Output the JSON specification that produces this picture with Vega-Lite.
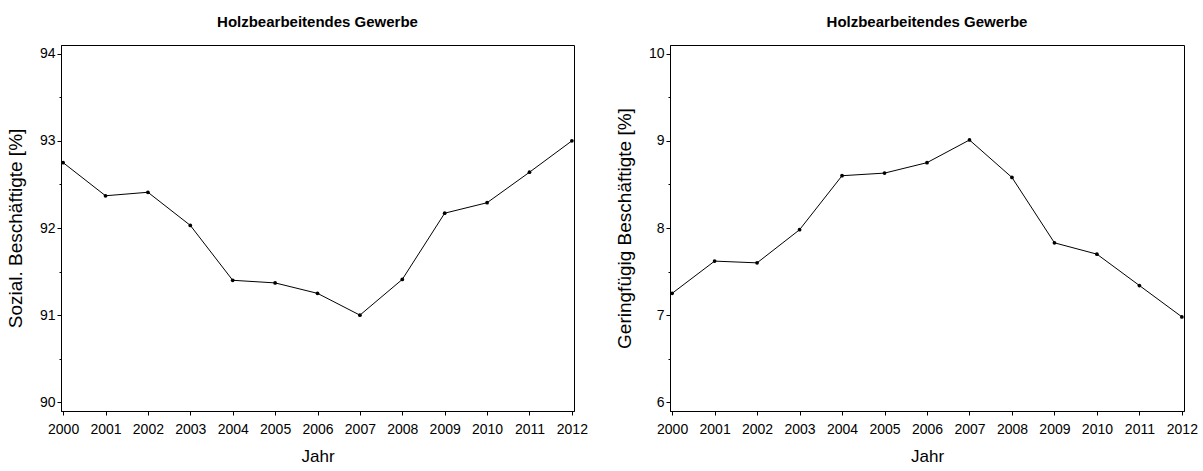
{
  "$schema": "https://vega.github.io/schema/vega-lite/v6.json",
  "padding": {"left": 5, "top": 14, "right": 5, "bottom": 3},
  "spacing": 26,
  "background": "white",
  "config": {
    "font": "Liberation Sans",
    "view": {"stroke": "black", "strokeWidth": 1},
    "axis": {
      "grid": false,
      "domainColor": "black",
      "tickColor": "black",
      "labelColor": "black",
      "titleColor": "black",
      "labelFont": "Liberation Sans",
      "labelFontSize": 14,
      "titleFont": "Liberation Sans",
      "titleFontSize": 19,
      "titleFontWeight": "normal",
      "tickSize": 4
    },
    "title": {"font": "Liberation Sans", "fontSize": 15, "fontWeight": "bold", "color": "black", "anchor": "middle", "offset": 15}
  },
  "datasets": {
    "d": [
      {"Jahr": 2000, "sozial": 92.75, "gering": 7.25},
      {"Jahr": 2001, "sozial": 92.37, "gering": 7.62},
      {"Jahr": 2002, "sozial": 92.41, "gering": 7.60},
      {"Jahr": 2003, "sozial": 92.03, "gering": 7.98},
      {"Jahr": 2004, "sozial": 91.40, "gering": 8.60},
      {"Jahr": 2005, "sozial": 91.37, "gering": 8.63},
      {"Jahr": 2006, "sozial": 91.25, "gering": 8.75},
      {"Jahr": 2007, "sozial": 91.00, "gering": 9.01},
      {"Jahr": 2008, "sozial": 91.41, "gering": 8.58},
      {"Jahr": 2009, "sozial": 92.17, "gering": 7.83},
      {"Jahr": 2010, "sozial": 92.29, "gering": 7.70},
      {"Jahr": 2011, "sozial": 92.64, "gering": 7.34},
      {"Jahr": 2012, "sozial": 93.00, "gering": 6.98}
    ]
  },
  "hconcat": [
    {
      "width": 513,
      "height": 366,
      "title": "Holzbearbeitendes Gewerbe",
      "data": {"name": "d"},
      "encoding": {
        "x": {"field": "Jahr", "type": "quantitative", "title": "Jahr",
              "scale": {"domain": [1999.95, 2012.05], "nice": false, "zero": false},
              "axis": {"values": [2000,2001,2002,2003,2004,2005,2006,2007,2008,2009,2010,2011,2012], "format": "d", "labelFlush": false, "labelPadding": 7, "titlePadding": 12, "titleFontSize": 17}},
        "y": {"field": "sozial", "type": "quantitative", "title": "Sozial. Beschäftigte [%]",
              "scale": {"domain": [89.9, 94.1], "nice": false, "zero": false},
              "axis": {"values": [90,90.5,91,91.5,92,92.5,93,93.5,94], "labelExpr": "datum.value % 1 === 0 ? format(datum.value, 'd') : ''",
                       "tickSize": {"condition": {"test": "datum.value % 1 !== 0", "value": 2}, "value": 4},
                       "labelPadding": 2, "titlePadding": 14}}
      },
      "layer": [
        {"mark": {"type": "line", "color": "black", "strokeWidth": 1}},
        {"mark": {"type": "point", "filled": true, "color": "black", "size": 14, "opacity": 1}}
      ]
    },
    {
      "width": 514,
      "height": 366,
      "title": "Holzbearbeitendes Gewerbe",
      "data": {"name": "d"},
      "encoding": {
        "x": {"field": "Jahr", "type": "quantitative", "title": "Jahr",
              "scale": {"domain": [1999.95, 2012.05], "nice": false, "zero": false},
              "axis": {"values": [2000,2001,2002,2003,2004,2005,2006,2007,2008,2009,2010,2011,2012], "format": "d", "labelFlush": false, "labelPadding": 7, "titlePadding": 12, "titleFontSize": 17}},
        "y": {"field": "gering", "type": "quantitative", "title": "Geringfügig Beschäftigte [%]",
              "scale": {"domain": [5.9, 10.1], "nice": false, "zero": false},
              "axis": {"values": [6,6.5,7,7.5,8,8.5,9,9.5,10], "labelExpr": "datum.value % 1 === 0 ? format(datum.value, 'd') : ''",
                       "tickSize": {"condition": {"test": "datum.value % 1 !== 0", "value": 2}, "value": 4},
                       "labelPadding": 2, "titlePadding": 14}}
      },
      "layer": [
        {"mark": {"type": "line", "color": "black", "strokeWidth": 1}},
        {"mark": {"type": "point", "filled": true, "color": "black", "size": 14, "opacity": 1}}
      ]
    }
  ]
}
